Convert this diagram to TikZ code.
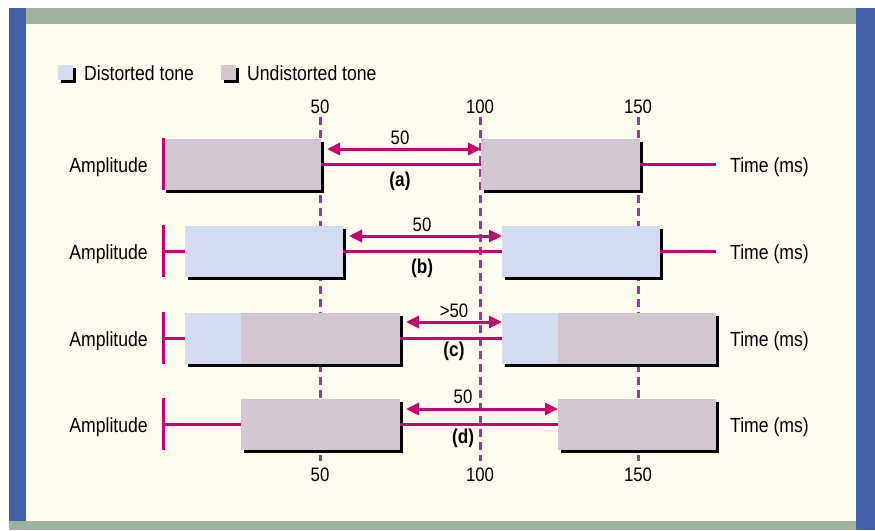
\documentclass[tikz,border=0pt]{standalone}
\usepackage{fontspec}
\setmainfont{Liberation Sans}[FakeStretch=0.86]
\usetikzlibrary{arrows.meta,shadows}
\definecolor{cream}{HTML}{FEFCEE}
\definecolor{barblue}{HTML}{4161A8}
\definecolor{bargreen}{HTML}{9DB39A}
\definecolor{distc}{HTML}{D3DBEE}
\definecolor{undistc}{HTML}{D2C6D0}
\definecolor{mag}{HTML}{C8006E}
\definecolor{purp}{HTML}{9B3A95}
\tikzset{
  lbl/.style={font=\fontsize{20.5}{24}\selectfont, inner sep=0pt},
  num/.style={font=\fontsize{19.5}{22}\selectfont, inner sep=0pt},
  tag/.style={font=\fontsize{20}{22}\selectfont\bfseries, inner sep=0pt},
  tonebox/.style={rectangle, inner sep=0pt, outer sep=0pt, minimum height=51pt, anchor=west,
    general shadow={fill=black, shadow xshift=3pt, shadow yshift=-3pt}},
  dist/.style={tonebox, fill=distc},
  undist/.style={tonebox, fill=undistc},
  axisline/.style={draw=mag, line width=3pt},
  dim/.style={draw=mag, line width=3pt, {Triangle[length=13pt,width=12pt]}-{Triangle[length=13pt,width=12pt]}},
  grid/.style={draw=purp, line width=2.8pt, dash pattern=on 8pt off 5pt},
  legendsq/.style={rectangle, inner sep=0pt, minimum size=15pt,
    general shadow={fill=black, shadow xshift=3pt, shadow yshift=-3pt}},
}
\begin{document}
\begin{tikzpicture}[x=1pt,y=-1pt]
\useasboundingbox (0,0) rectangle (875,530);
% frame
\fill[white] (0,0) rectangle (875,530);
\fill[cream] (26,24) rectangle (856,521);
\fill[barblue] (9,8) rectangle (26,521);
\fill[bargreen] (26,8) rectangle (856,24);
\fill[barblue] (856,8) rectangle (875,530);
\fill[bargreen] (9,521) rectangle (856,530);

% legend
\node[legendsq, fill=distc, anchor=north west] (lgd) at (58,65) {};
\node[lbl, anchor=base west] (lgdt) at (84,80) {Distorted tone};
\node[legendsq, fill=undistc, anchor=north west] (lgu) at (221,65) {};
\node[lbl, anchor=base west] (lgut) at (247,80) {Undistorted tone};

% time markers
\node[num, anchor=base] (t50) at (320,113) {50};
\node[num, anchor=base] (t100) at (480,113) {100};
\node[num, anchor=base] (t150) at (638,113) {150};
\node[num, anchor=base] (u50) at (320,481) {50};
\node[num, anchor=base] (u100) at (480,481) {100};
\node[num, anchor=base] (u150) at (638,481) {150};
\draw[grid] (320.5,117) -- (320.5,461);
\draw[grid] (480.5,117) -- (480.5,461);
\draw[grid] (638.5,117) -- (638.5,461);

% row labels
\foreach \r/\yy in {a/164,b/251,c/338,d/424}{
  \node[lbl, anchor=base east] (amp\r) at (148,\yy+8) {Amplitude};
  \node[lbl, anchor=base west] (time\r) at (730,\yy+8) {Time (ms)};
  \coordinate (s\r) at (163,\yy);
  \coordinate (e\r) at (716,\yy);
}

% row (a)
\node[undist, minimum width=158pt] (a1) at (163,164) {};
\node[undist, minimum width=159pt] (a2) at (481,164) {};
\draw[axisline] (a1.east) -- (a2.west);
\draw[axisline] (a2.east) -- (ea);
\draw[dim] ([xshift=6pt]a1.east |- 0,149) -- (a2.west |- 0,149);
\node[num, anchor=base] (la) at (400,144) {50};
\node[tag] (ta) at (400,181) {(a)};

% row (b)
\node[dist, minimum width=158pt] (b1) at (185,251) {};
\node[dist, minimum width=158pt] (b2) at (502,251) {};
\draw[axisline] (sb) -- (b1.west);
\draw[axisline] (b1.east) -- (b2.west);
\draw[axisline] (b2.east) -- (eb);
\draw[dim] ([xshift=6pt]b1.east |- 0,236) -- (b2.west |- 0,236);
\node[num, anchor=base] (lb) at (422,231) {50};
\node[tag] (tb) at (422,268) {(b)};

% row (c)
\node[dist, minimum width=56pt] (c1d) at (185,338) {};
\node[undist, minimum width=159pt] (c1) at (241,338) {};
\node[dist, minimum width=56pt] (c2d) at (502,338) {};
\node[undist, minimum width=158pt] (c2) at (558,338) {};
\draw[axisline] (sc) -- (c1d.west);
\draw[axisline] (c1.east) -- (c2d.west);
\draw[dim] ([xshift=6pt]c1.east |- 0,322) -- (c2d.west |- 0,322);
\node[num, anchor=base] (lc) at (454,317) {>50};
\node[tag] (tc) at (454,351) {(c)};

% row (d)
\node[undist, minimum width=159pt] (d1) at (241,424) {};
\node[undist, minimum width=158pt] (d2) at (558,424) {};
\draw[axisline] (sd) -- (d1.west);
\draw[axisline] (d1.east) -- (d2.west);
\draw[dim] ([xshift=6pt]d1.east |- 0,409) -- (d2.west |- 0,409);
\node[num, anchor=base] (ld) at (463,403) {50};
\node[tag] (td) at (463,438) {(d)};

% amplitude ticks
\foreach \r in {a,b,c,d}{
  \draw[axisline] ([yshift=26pt]s\r) -- ([yshift=-25.5pt]s\r);
}
\end{tikzpicture}
\end{document}
